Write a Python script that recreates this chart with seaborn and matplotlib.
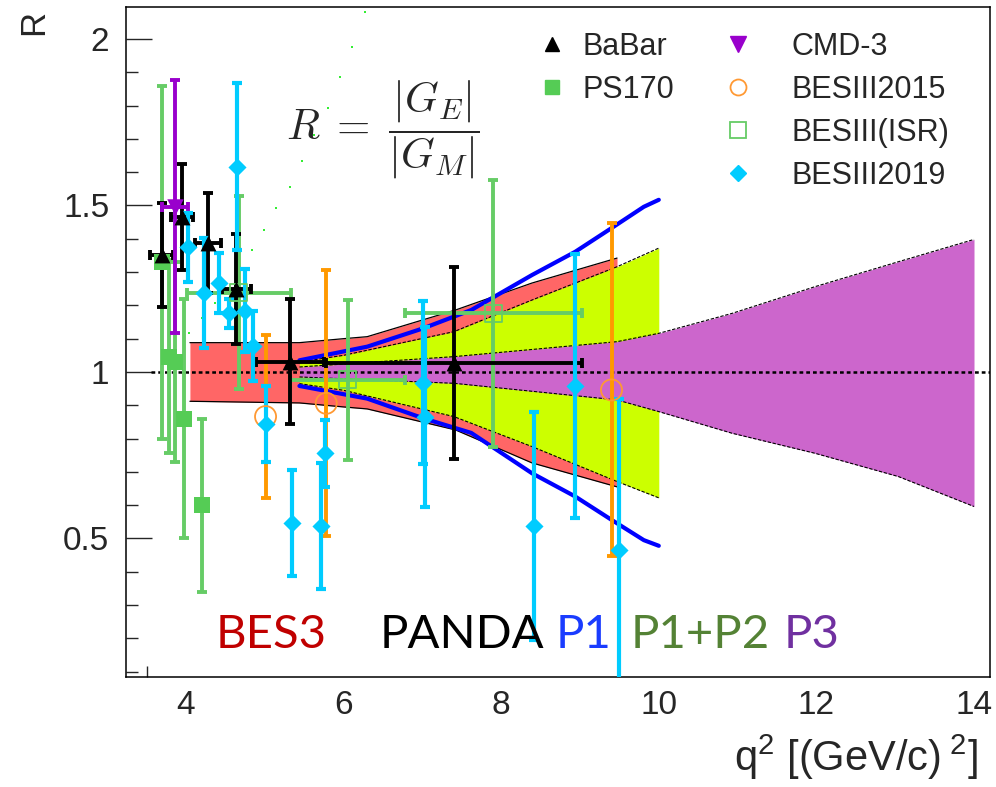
import matplotlib
matplotlib.use("Agg")
import matplotlib.pyplot as plt
import pandas as pd
import seaborn as sns
from matplotlib.lines import Line2D
from matplotlib.ticker import MultipleLocator, FixedLocator

# ---------------- data ----------------
# BaBar
babar_q2 = [3.69, 3.95, 4.28, 4.64, 5.32, 7.40]
babar_r = [1.351, 1.466, 1.388, 1.248, 1.031, 1.028]
babar_rerr = [0.155, 0.16, 0.15, 0.165, 0.188, 0.288]
babar_q2err = [0.15, 0.135, 0.17, 0.18, 0.43, 1.62]

# CMD-3
cmd3_q2 = [3.86]
cmd3_r = [1.496]
cmd3_rerr = [0.38]
cmd3_q2err = [0.16]

# PS170
ps170_q2 = [3.69, 3.78, 3.86, 3.97, 4.20]
ps170_r = [1.33, 1.046, 1.03, 0.86, 0.60]
ps170_rerr = [0.53, 0.29, 0.30, 0.36, 0.26]

# BESIII 2015
b15_q2 = [5.01, 5.78, 9.40]
b15_r = [0.866, 0.906, 0.946]
b15_rerr = [0.245, 0.40, 0.50]

# BESIII (ISR)
isr_q2 = [4.67, 6.05, 7.90]
isr_r = [1.238, 0.977, 1.176]
isr_rerr = [0.29, 0.24, 0.40]
isr_q2err = [0.66, 0.73, 1.12]

# BESIII 2019
b19_q2 = [4.02, 4.23, 4.42, 4.54, 4.65, 4.75, 4.85, 5.01, 5.35, 5.71, 5.76,
          7.01, 7.03, 8.42, 8.94, 9.49]
b19_r = [1.374, 1.236, 1.266, 1.176, 1.617, 1.184, 1.078, 0.844, 0.546, 0.538,
         0.756, 0.968, 0.866, 0.538, 0.958, 0.465]
b19_rerr = [0.104, 0.165, 0.09, 0.044, 0.25, 0.125, 0.105, 0.115, 0.16, 0.19,
            0.10, 0.245, 0.27, 0.343, 0.396, 0.453]

# faint green dotted trace
dots_q2 = [4.042, 4.199, 4.363, 4.844, 4.996, 5.148, 5.320, 5.477, 5.629,
           5.797, 5.953, 6.105, 6.275]
dots_r = [1.116, 1.161, 1.208, 1.366, 1.426, 1.492, 1.556, 1.634, 1.711,
          1.792, 1.885, 1.977, 2.082]

# projected uncertainty bands
bes3_q2 = [4.05, 5.44, 6.0, 6.3, 7.42, 8.39, 9.47]
bes3_hi = [1.088, 1.088, 1.10, 1.106, 1.186, 1.267, 1.342]
bes3_lo = [0.912, 0.907, 0.895, 0.889, 0.826, 0.727, 0.655]

p1_q2 = [5.44, 6.3, 7.01, 7.62, 8.39, 8.94, 9.4, 9.81, 10.0]
p1_hi = [1.035, 1.076, 1.131, 1.186, 1.291, 1.361, 1.432, 1.496, 1.517]
p1_lo = [0.958, 0.92, 0.861, 0.817, 0.696, 0.626, 0.556, 0.495, 0.478]

p12_q2 = [5.44, 6.0, 7.4, 8.39, 9.47, 10.0]
p12_hi = [1.03, 1.05, 1.121, 1.216, 1.316, 1.372]
p12_lo = [0.965, 0.945, 0.866, 0.776, 0.671, 0.622]

p3_q2 = [5.44, 7.4, 9.47, 10.0, 10.93, 11.98, 13.04, 14.0]
p3_hi = [1.015, 1.046, 1.091, 1.116, 1.176, 1.256, 1.331, 1.398]
p3_lo = [0.985, 0.966, 0.916, 0.881, 0.816, 0.756, 0.686, 0.596]

ref_r = 1.0
ref_from = 3.55

# ---------------- style ----------------
sns.set_style("white")
plt.rcParams['font.family'] = ['Liberation Sans', 'DejaVu Sans']
plt.rcParams['mathtext.fontset'] = 'custom'
plt.rcParams['mathtext.rm'] = 'Liberation Sans'
plt.rcParams['mathtext.it'] = 'Liberation Sans:italic'

W, H = 996, 787
fig = plt.figure(figsize=(W / 100, H / 100), dpi=100)
ax = fig.add_axes([126 / W, 110 / H, 864 / W, 670 / H])
ax.set_xlim(3.239, 14.203)
ax.set_ylim(0.084, 2.096)

# bands
ax.fill_between(bes3_q2, bes3_lo, bes3_hi, color='#ff6666', lw=0, zorder=1)
ax.plot(bes3_q2, bes3_hi, color='k', lw=0.9, zorder=1.1)
ax.plot(bes3_q2, bes3_lo, color='k', lw=0.9, zorder=1.1)
ax.fill_between(p12_q2, p12_lo, p12_hi, color='#ccff00', lw=0, zorder=2)
ax.plot(p12_q2, p12_hi, color='k', lw=0.8, ls=(0, (3, 1.5)), zorder=2.1)
ax.plot(p12_q2, p12_lo, color='k', lw=0.8, ls=(0, (3, 1.5)), zorder=2.1)
ax.fill_between(p3_q2, p3_lo, p3_hi, color='#cc66cc', lw=0, zorder=3)
ax.plot(p3_q2, p3_hi, color='k', lw=0.8, ls=(0, (3, 1.5)), zorder=3.1)
ax.plot(p3_q2, p3_lo, color='k', lw=0.8, ls=(0, (3, 1.5)), zorder=3.1)
ax.plot(p1_q2, p1_hi, color='#0000ff', lw=3, zorder=4)
ax.plot(p1_q2, p1_lo, color='#0000ff', lw=3, zorder=4)
ax.hlines(ref_r, ref_from, ax.get_xlim()[1], colors='k', lw=1.8,
          linestyles=(0, (1.5, 1.2)), zorder=5)

# data with error bars
eb = dict(fmt='none', capsize=3.5, zorder=6)
ax.errorbar(ps170_q2, ps170_r, yerr=ps170_rerr, ecolor='#66cc66', elinewidth=2.8,
            capthick=2.8, **eb)
ax.errorbar(isr_q2, isr_r, yerr=isr_rerr, xerr=isr_q2err, ecolor='#66cc66',
            elinewidth=2.8, capthick=2.8, **eb)
ax.errorbar(b15_q2, b15_r, yerr=b15_rerr, ecolor='#ff9900', elinewidth=2.8,
            capthick=2.8, **eb)
ax.errorbar(babar_q2, babar_r, yerr=babar_rerr, xerr=babar_q2err, ecolor='k',
            elinewidth=2.8, capthick=2.8, **eb)
ax.errorbar(cmd3_q2, cmd3_r, yerr=cmd3_rerr, xerr=cmd3_q2err, ecolor='#9900cc',
            elinewidth=2.8, capthick=2.8, **eb)
ax.errorbar(b19_q2, b19_r, yerr=b19_rerr, ecolor='#00ccff', elinewidth=3,
            capthick=3, **eb)

ps170 = pd.DataFrame({'q2': ps170_q2, 'R': ps170_r})
isr = pd.DataFrame({'q2': isr_q2, 'R': isr_r})
b15 = pd.DataFrame({'q2': b15_q2, 'R': b15_r})
babar = pd.DataFrame({'q2': babar_q2, 'R': babar_r})
cmd3 = pd.DataFrame({'q2': cmd3_q2, 'R': cmd3_r})
b19 = pd.DataFrame({'q2': b19_q2, 'R': b19_r})
dots = pd.DataFrame({'q2': dots_q2, 'R': dots_r})

sns.scatterplot(data=dots, x='q2', y='R', ax=ax, marker='s', s=3, color='#33ee33',
                linewidth=0, zorder=5)
sns.scatterplot(data=ps170, x='q2', y='R', ax=ax, marker='s', s=130, color='#55cc55',
                linewidth=0, zorder=7)
sns.scatterplot(data=isr, x='q2', y='R', ax=ax, marker='s', s=150, facecolor='none',
                edgecolor='#66cc66', linewidth=1.3, zorder=7)
sns.scatterplot(data=b15, x='q2', y='R', ax=ax, marker='o', s=230, facecolor='none',
                edgecolor='#ff9933', linewidth=1.3, zorder=7)
sns.scatterplot(data=babar, x='q2', y='R', ax=ax, marker='^', s=130, color='k',
                linewidth=0, zorder=8)
sns.scatterplot(data=cmd3, x='q2', y='R', ax=ax, marker='v', s=140, color='#9900cc',
                linewidth=0, zorder=8)
sns.scatterplot(data=b19, x='q2', y='R', ax=ax, marker='D', s=85, color='#00ccff',
                linewidth=0, zorder=9)

# axes, ticks
for sp in ax.spines.values():
    sp.set_visible(True)
    sp.set_color('k')
    sp.set_linewidth(1.1)
ax.set_xlabel('')
ax.set_ylabel('')
ax.xaxis.set_major_locator(FixedLocator([4, 6, 8, 10, 12, 14]))
ax.xaxis.set_minor_locator(FixedLocator([3.5]))
ax.yaxis.set_major_locator(MultipleLocator(0.5))
ax.yaxis.set_minor_locator(MultipleLocator(0.1))
ax.yaxis.set_major_formatter(plt.FuncFormatter(lambda v, p: f'{v:g}'))
ax.tick_params(axis='x', which='major', length=0, pad=9, labelsize=24)
ax.tick_params(axis='x', which='minor', bottom=True, direction='in', length=8, width=1)
ax.tick_params(axis='y', which='major', left=True, direction='in', length=19, width=1,
               pad=12, labelsize=24)
ax.tick_params(axis='y', which='minor', left=True, direction='in', length=8.5, width=1)

# axis titles
fig.text(34 / W, 1 - 22 / H, 'R', rotation=90, ha='center', va='center', fontsize=25)
fig.text(978 / W, 1 - 757 / H, r'q$^{2}$ [(GeV/c)$^{\,\,2}$]', ha='right', va='center',
         fontsize=30)

# formula
fig.text(383 / W, 1 - 130 / H, r'$R\;=\;\dfrac{|G_E|}{|G_M|}$', ha='center', va='center',
         fontsize=31, math_fontfamily='cm')

# legend (two columns)
h1 = [Line2D([], [], ls='none', marker='^', color='k', markersize=10),
      Line2D([], [], ls='none', marker='s', color='#55cc55', markersize=10.5)]
h2 = [Line2D([], [], ls='none', marker='v', color='#9900cc', markersize=11),
      Line2D([], [], ls='none', marker='o', mfc='none', mec='#ff9933', mew=1.3, markersize=11.5),
      Line2D([], [], ls='none', marker='s', mfc='none', mec='#66cc66', mew=1.3, markersize=11),
      Line2D([], [], ls='none', marker='D', color='#00ccff', markersize=8.5)]
leg_kw = dict(frameon=False, fontsize=22, borderpad=0, borderaxespad=0,
              labelspacing=0.42, loc='upper left', bbox_transform=fig.transFigure)
leg1 = ax.legend(h1, ['BaBar', 'PS170'], handlelength=1.0, handletextpad=0.5,
                 bbox_to_anchor=(537 / W, 1 - 32 / H), **leg_kw)
ax.add_artist(leg1)
ax.legend(h2, ['CMD-3', 'BESIII2015', 'BESIII(ISR)', 'BESIII2019'], handlelength=1.6,
          handletextpad=0.93, bbox_to_anchor=(714 / W, 1 - 32 / H), **leg_kw)

# experiment labels
words = ['BES3', 'PANDA', 'P1', 'P1+P2', 'P3']
word_x = [216, 380, 556, 631, 784]
word_c = ['#c00000', '#000000', '#1a3cff', '#548235', '#7030a0']
for w, xp, c in zip(words, word_x, word_c):
    fig.text(xp / W, 1 - 648 / H, w, color=c, ha='left', va='baseline', fontsize=34,
             family=['Lato', 'DejaVu Sans'])

fig.savefig('out.png', dpi=100)
